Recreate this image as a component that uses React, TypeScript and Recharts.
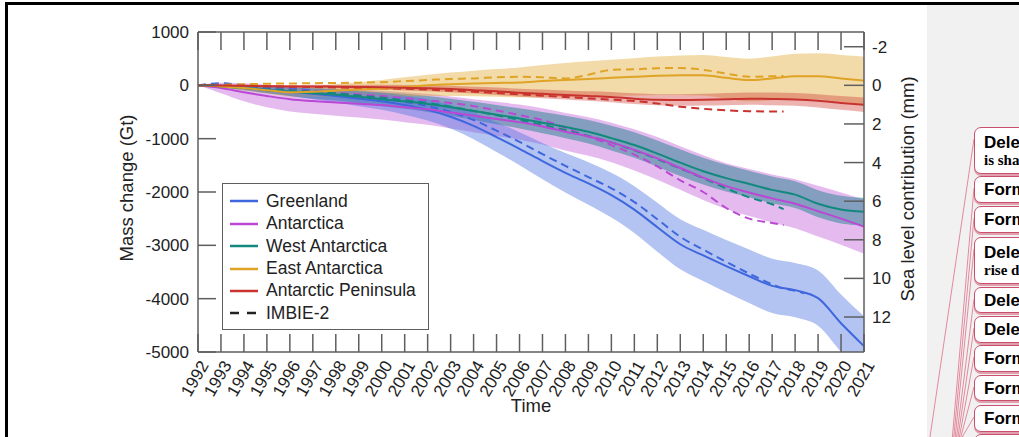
import { Area, ComposedChart, Legend, Line, XAxis, YAxis } from "recharts";

// ---- data (Gt, cumulative since 1992) ----
const years = [
  1992, 1993, 1994, 1995, 1996, 1997, 1998, 1999, 2000, 2001, 2002, 2003, 2004, 2005, 2006,
  2007, 2008, 2009, 2010, 2011, 2012, 2013, 2014, 2015, 2016, 2017, 2018, 2019, 2020, 2021,
];

const greenland = [
  0, -10, -40, -80, -120, -160, -200, -250, -300, -370, -460, -590, -760, -970, -1190,
  -1420, -1640, -1840, -2060, -2330, -2660, -2980, -3190, -3390, -3580, -3760, -3840, -3990, -4460, -4890,
];
const greenlandUnc = [
  0, 20, 40, 60, 80, 100, 120, 140, 160, 180, 200, 220, 250, 280, 310,
  340, 370, 400, 420, 440, 460, 470, 480, 490, 500, 510, 510, 520, 540, 560,
];

const antarctica = [
  0, -50, -130, -200, -260, -295, -320, -345, -370, -410, -450, -510, -570, -630, -690,
  -770, -870, -960, -1070, -1210, -1370, -1550, -1730, -1890, -2010, -2120, -2220, -2360, -2500, -2650,
];
const antarcticaUnc = [
  0, 100, 170, 210, 230, 240, 250, 260, 270, 280, 290, 300, 310, 320, 330,
  340, 350, 360, 370, 385, 400, 410, 420, 430, 440, 450, 460, 475, 490, 510,
];

const westAntarctica = [
  0, -20, -50, -90, -120, -150, -175, -215, -260, -300, -350, -410, -480, -550, -620,
  -700, -780, -870, -990, -1120, -1280, -1450, -1610, -1740, -1850, -1960, -2050, -2220, -2330, -2370,
];
const westUnc = [
  0, 20, 40, 60, 80, 100, 110, 120, 130, 140, 150, 160, 170, 180, 190,
  200, 210, 220, 230, 240, 245, 250, 250, 250, 250, 250, 250, 255, 260, 260,
];

const eastAntarctica = [
  0, -20, -50, -90, -130, -120, -100, -80, -60, -30, 0, 20, 35, 45, 55,
  80, 100, 120, 140, 160, 180, 190, 190, 140, 100, 130, 170, 170, 130, 90,
];
const eastUnc = [
  0, 20, 40, 60, 80, 100, 120, 140, 160, 180, 200, 220, 240, 260, 280,
  300, 320, 330, 340, 350, 360, 370, 380, 390, 400, 410, 420, 430, 440, 450,
];

const peninsula = [
  0, -5, -10, -15, -20, -20, -25, -30, -35, -45, -55, -70, -90, -110, -140,
  -160, -180, -200, -220, -250, -270, -275, -270, -260, -250, -255, -265, -290, -330, -365,
];
const peninsulaUnc = [
  0, 10, 15, 20, 25, 30, 35, 40, 45, 50, 55, 60, 65, 70, 75,
  80, 85, 90, 95, 100, 105, 110, 110, 115, 115, 120, 120, 125, 130, 135,
];

// IMBIE-2 (dashed) – ends 2017/2018
const imbieYears = [
  1992, 1993, 1994, 1995, 1996, 1997, 1998, 1999, 2000, 2001, 2002, 2003, 2004, 2005, 2006,
  2007, 2008, 2009, 2010, 2011, 2012, 2013, 2014, 2015, 2016, 2017, 2017.5, 2018, 2018.4,
];
const imbieGreenland = [
  0, 40, 0, -30, -60, -100, -150, -200, -250, -310, -390, -500, -650, -850, -1060,
  -1290, -1510, -1720, -1930, -2190, -2510, -2840, -3080, -3310, -3530, -3730, -3810, -3850, -3900,
];
const imbieAntarctica = [
  0, -15, -30, -55, -80, -110, -140, -170, -200, -240, -280, -330, -390, -470, -560,
  -650, -800, -960, -1120, -1300, -1520, -1780, -2000, -2300, -2500, -2580, -2620, null, null,
];
const imbieWest = [
  0, -15, -35, -60, -90, -120, -150, -190, -230, -280, -330, -400, -480, -560, -650,
  -740, -840, -950, -1070, -1220, -1380, -1560, -1740, -1930, -2100, -2230, -2320, null, null,
];
const imbieEast = [
  0, 10, 20, 30, 35, 40, 45, 50, 60, 80, 100, 120, 130, 150, 160,
  150, 130, 200, 290, 300, 320, 325, 290, 220, 160, 170, 175, null, null,
];
const imbiePeninsula = [
  0, -5, -10, -18, -25, -32, -40, -48, -55, -65, -80, -100, -120, -145, -170,
  -195, -220, -245, -270, -295, -340, -400, -440, -470, -485, -490, -492, null, null,
];

const gtTicks = [1000, 0, -1000, -2000, -3000, -4000, -5000];
const mmTicks = [-2, 0, 2, 4, 6, 8, 10, 12];
const GT_PER_MM = 362;

const rows = years.map((year, i) => ({
  year,
  greenland: greenland[i],
  antarctica: antarctica[i],
  west: westAntarctica[i],
  east: eastAntarctica[i],
  peninsula: peninsula[i],
  greenlandBand: [greenland[i] - greenlandUnc[i], greenland[i] + greenlandUnc[i]],
  antarcticaBand: [antarctica[i] - antarcticaUnc[i], antarctica[i] + antarcticaUnc[i]],
  westBand: [westAntarctica[i] - westUnc[i], westAntarctica[i] + westUnc[i]],
  eastBand: [eastAntarctica[i] - eastUnc[i], eastAntarctica[i] + eastUnc[i]],
  peninsulaBand: [peninsula[i] - peninsulaUnc[i], peninsula[i] + peninsulaUnc[i]],
}));

const imbieRows = imbieYears.map((year, i) => ({
  year,
  greenland: imbieGreenland[i],
  antarctica: imbieAntarctica[i],
  west: imbieWest[i],
  east: imbieEast[i],
  peninsula: imbiePeninsula[i],
}));

const series = [
  { key: "greenland", name: "Greenland", color: "#3f67dd", fill: "#4a70e0", op: 0.42 },
  { key: "antarctica", name: "Antarctica", color: "#bb48d4", fill: "#bf55d8", op: 0.4 },
  { key: "west", name: "West Antarctica", color: "#13897e", fill: "#1a7f8a", op: 0.48 },
  { key: "east", name: "East Antarctica", color: "#dfa326", fill: "#e0aa30", op: 0.42 },
  { key: "peninsula", name: "Antarctic Peninsula", color: "#c8332e", fill: "#d0403a", op: 0.4 },
];
const bandOrder = ["antarctica", "west", "east", "peninsula", "greenland"];

const AXIS = "#5e5e5e";
const TEXT = "#222";
const FONT = '"Liberation Sans", Arial, sans-serif';

function BottomTick(props: any) {
  const { x, y, payload } = props;
  return (
    <g>
      <line x1={x} y1={y} x2={x} y2={y - 18} stroke={AXIS} strokeWidth={1.5} />
      <text
        transform={`translate(${x + 6},${y + 10}) rotate(-60)`}
        textAnchor="end"
        dy="0.35em"
        fontSize={17}
        fontFamily={FONT}
        fill={TEXT}
      >
        {payload.value}
      </text>
    </g>
  );
}

function TopTick(props: any) {
  const { x, y } = props;
  return <line x1={x} y1={y} x2={x} y2={y + 18} stroke={AXIS} strokeWidth={1.5} />;
}

function LeftTick(props: any) {
  const { x, y, payload } = props;
  return (
    <g>
      <line x1={x} y1={y} x2={x + 18} y2={y} stroke={AXIS} strokeWidth={1.5} />
      <text x={x - 9} y={y} dy="0.35em" textAnchor="end" fontSize={17} fontFamily={FONT} fill={TEXT}>
        {payload.value}
      </text>
    </g>
  );
}

function RightTick(props: any) {
  const { x, y, payload } = props;
  return (
    <g>
      <line x1={x} y1={y} x2={x - 20} y2={y} stroke={AXIS} strokeWidth={1.5} />
      <text x={x + 8} y={y} dy="0.35em" textAnchor="start" fontSize={17} fontFamily={FONT} fill={TEXT}>
        {payload.value}
      </text>
    </g>
  );
}

function AxisTitle({ tx, ty, rot, text }: { tx: number; ty: number; rot: number; text: string }) {
  return (
    <text
      x={tx}
      y={ty}
      transform={rot ? `rotate(${rot} ${tx} ${ty})` : undefined}
      textAnchor="middle"
      fontSize={18.5}
      fontFamily={FONT}
      fill={TEXT}
    >
      {text}
    </text>
  );
}

function LegendBox() {
  const items = [
    ...series.map((s) => ({ name: s.name, color: s.color, dashed: false })),
    { name: "IMBIE-2", color: "#222", dashed: true },
  ];
  return (
    <div
      style={{
        width: 207,
        height: 147,
        boxSizing: "border-box",
        border: `1.5px solid ${AXIS}`,
        background: "#fff",
        paddingTop: 6,
        fontFamily: FONT,
        fontSize: 17.5,
        color: TEXT,
      }}
    >
      {items.map((it) => (
        <div key={it.name} style={{ display: "flex", alignItems: "center", height: 22.45 }}>
          <svg width={36} height={6} style={{ marginLeft: 7, marginRight: 8, display: "block" }}>
            <line
              x1={0}
              y1={3}
              x2={28}
              y2={3}
              stroke={it.color}
              strokeWidth={2.5}
              strokeDasharray={it.dashed ? "9 8" : undefined}
            />
          </svg>
          <span style={{ marginLeft: -8, whiteSpace: "nowrap" }}>{it.name}</span>
        </div>
      ))}
    </div>
  );
}

const comments = [
  { top: 127, h: 47, title: "Deleted:", sub: "is shaded" },
  { top: 176, h: 27, title: "Formatted:" },
  { top: 206, h: 27, title: "Formatted:" },
  { top: 237, h: 47, title: "Deleted:", sub: "rise due to" },
  { top: 287, h: 26, title: "Deleted:" },
  { top: 316, h: 27, title: "Deleted:" },
  { top: 345, h: 27, title: "Formatted:" },
  { top: 375, h: 26, title: "Formatted:" },
  { top: 405, h: 27, title: "Formatted:" },
  { top: 434, h: 27, title: "Formatted:" },
];

export default function App() {
  return (
    <div
      style={{
        position: "fixed",
        left: 0,
        top: 0,
        width: 1019,
        height: 437,
        background: "#fff",
        overflow: "hidden",
        fontFamily: FONT,
      }}
    >
      <div
        style={{
          position: "absolute",
          left: 5,
          top: 2,
          width: 2000,
          height: 1000,
          borderTop: "3px solid #000",
          borderLeft: "3px solid #000",
        }}
      />
      <div style={{ position: "absolute", left: 0, top: 0 }}>
        <ComposedChart
          width={930}
          height={437}
          data={rows}
          margin={{ top: 31, right: 26, bottom: 25, left: 138 }}
        >
          <XAxis
            dataKey="year"
            type="number"
            domain={[1992, 2021]}
            ticks={years}
            interval={0}
            tickSize={0}
            tickMargin={0}
            tickLine={false}
            tick={(p: any) => <BottomTick {...p} />}
            axisLine={{ stroke: AXIS, strokeWidth: 1.5 }}
            height={60}
            label={<AxisTitle tx={531} ty={412} rot={0} text="Time" />}
          />
          <XAxis
            xAxisId="top"
            orientation="top"
            dataKey="year"
            type="number"
            domain={[1992, 2021]}
            ticks={years}
            interval={0}
            tickSize={0}
            tickMargin={0}
            tickLine={false}
            tick={(p: any) => <TopTick {...p} />}
            axisLine={{ stroke: AXIS, strokeWidth: 1.5 }}
            height={1}
          />
          <YAxis
            type="number"
            domain={[-5000, 1000]}
            ticks={gtTicks}
            interval={0}
            allowDataOverflow
            tickSize={0}
            tickMargin={0}
            tickLine={false}
            tick={(p: any) => <LeftTick {...p} />}
            axisLine={{ stroke: AXIS, strokeWidth: 1.5 }}
            width={60}
            label={<AxisTitle tx={133} ty={188} rot={-90} text="Mass change (Gt)" />}
          />
          <YAxis
            yAxisId="mm"
            orientation="right"
            type="number"
            reversed
            domain={[-1000 / GT_PER_MM, 5000 / GT_PER_MM]}
            ticks={mmTicks}
            interval={0}
            allowDataOverflow
            tickSize={0}
            tickMargin={0}
            tickLine={false}
            tick={(p: any) => <RightTick {...p} />}
            axisLine={{ stroke: AXIS, strokeWidth: 1.5 }}
            width={40}
            label={<AxisTitle tx={914} ty={189} rot={-90} text="Sea level contribution (mm)" />}
          />

          {bandOrder.map((k) => {
            const s = series.find((d) => d.key === k)!;
            return (
              <Area
                key={`${k}-band`}
                type="monotone"
                dataKey={`${k}Band`}
                stroke="none"
                fill={s.fill}
                fillOpacity={s.op}
                isAnimationActive={false}
                legendType="none"
              />
            );
          })}

          {series.map((s) => (
            <Line
              key={`${s.key}-imbie`}
              data={imbieRows}
              type="monotone"
              dataKey={s.key}
              stroke={s.color}
              strokeWidth={2}
              strokeDasharray="8 5"
              dot={false}
              isAnimationActive={false}
              legendType="none"
            />
          ))}

          {series.map((s) => (
            <Line
              key={s.key}
              type="monotone"
              dataKey={s.key}
              name={s.name}
              stroke={s.color}
              strokeWidth={2}
              dot={false}
              isAnimationActive={false}
            />
          ))}

          <Legend
            layout="vertical"
            align="center"
            verticalAlign="middle"
            content={<LegendBox />}
            wrapperStyle={{ left: 222, top: 183, width: 207, height: 147 }}
          />
        </ComposedChart>
      </div>

      {/* review side panel */}
      <div style={{ position: "absolute", left: 927, top: 5, width: 92, height: 432, background: "#f1f1f1" }} />
      <svg width={1019} height={437} style={{ position: "absolute", left: 0, top: 0 }}>
        {comments.map((c, i) => (
          <line
            key={i}
            x1={i === 0 ? 930 : 951 + i * 1.4}
            y1={437}
            x2={974}
            y2={c.top + 12}
            stroke="#e3899c"
            strokeWidth={1}
          />
        ))}
      </svg>
      {comments.map((c, i) => (
        <div
          key={i}
          style={{
            position: "absolute",
            left: 974,
            top: c.top,
            width: 200,
            height: c.h,
            boxSizing: "border-box",
            border: "1.5px solid #c9506c",
            borderRadius: 7,
            background: "#fff",
            boxShadow: "0 2px 0 #e0a0ae",
            padding: "0 9px",
            display: "flex",
            flexDirection: "column",
            justifyContent: "center",
            overflow: "hidden",
            whiteSpace: "nowrap",
          }}
        >
          <div style={{ fontFamily: FONT, fontWeight: 700, fontSize: 17, lineHeight: "19px", color: "#000" }}>
            {c.title}
          </div>
          {c.sub && (
            <div style={{ fontFamily: '"Liberation Serif", serif', fontWeight: 700, fontSize: 15, lineHeight: "17px", color: "#000" }}>
              {c.sub}
            </div>
          )}
        </div>
      ))}
    </div>
  );
}
